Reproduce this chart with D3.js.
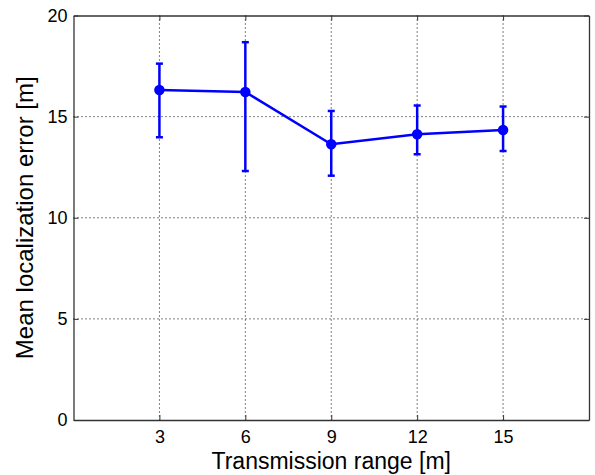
<!DOCTYPE html>
<html>
<head>
<meta charset="utf-8">
<script src="https://cdn.jsdelivr.net/npm/d3@7"></script>
<style>
  body { margin: 0; background: #fff; }
  svg { display: block; font-family: "Liberation Sans", Arial, sans-serif; }
</style>
</head>
<body>
<div id="chart"></div>
<script>
// data
var ranges = [3, 6, 9, 12, 15];
var meanErr = [16.32, 16.22, 13.63, 14.13, 14.34];
var errLow  = [13.98, 12.31, 12.08, 13.14, 13.30];
var errHigh = [17.62, 18.68, 15.28, 15.55, 15.50];
var xTicks = [3, 6, 9, 12, 15];
var yTicks = [0, 5, 10, 15, 20];

var W = 595, H = 475,
    margin = {top: 15.5, right: 6, bottom: 55, left: 73.5},
    width = W - margin.left - margin.right,
    height = H - margin.top - margin.bottom;

var svg = d3.select("#chart").append("svg").attr("width", W).attr("height", H);
var g = svg.append("g").attr("transform", "translate(" + margin.left + "," + margin.top + ")");

var x = d3.scaleLinear().domain([0, 18]).range([0, width]);
var y = d3.scaleLinear().domain([0, 20]).range([height, 0]);

// grid
g.append("g").selectAll("line").data(xTicks).enter().append("line")
    .attr("x1", d => x(d)).attr("x2", d => x(d))
    .attr("y1", 0).attr("y2", height)
    .attr("stroke", "#000").attr("stroke-width", 1).attr("stroke-dasharray", "1,3");
g.append("g").selectAll("line").data(yTicks.filter(d => d > 0 && d < 20)).enter().append("line")
    .attr("y1", d => y(d)).attr("y2", d => y(d))
    .attr("x1", 0).attr("x2", width)
    .attr("stroke", "#000").attr("stroke-width", 1).attr("stroke-dasharray", "1,3");

// axes (ticks inward, mirrored)
var axisColor = "#333";
var xAxis = d3.axisBottom(x).tickValues(xTicks).tickSizeInner(-5).tickSizeOuter(0).tickPadding(10);
var yAxis = d3.axisLeft(y).tickValues(yTicks).tickSizeInner(-5).tickSizeOuter(0).tickPadding(6);

var gx = g.append("g").attr("transform", "translate(0," + height + ")").call(xAxis);
var gy = g.append("g").call(yAxis);
var gxt = g.append("g").call(d3.axisTop(x).tickValues(xTicks).tickSizeInner(-5).tickSizeOuter(0).tickFormat(""));
var gyr = g.append("g").attr("transform", "translate(" + width + ",0)")
    .call(d3.axisRight(y).tickValues(yTicks).tickSizeInner(-5).tickSizeOuter(0).tickFormat(""));

[gx, gy, gxt, gyr].forEach(function(a) {
  a.attr("font-size", null).attr("font-family", null);
  a.select(".domain").attr("stroke", axisColor).attr("stroke-width", 1.3);
  a.selectAll(".tick line").attr("stroke", axisColor);
  a.selectAll(".tick text").attr("fill", "#000").style("font-size", "18px");
});

// error bars
var blue = "#0000ff";
var bars = g.append("g");
ranges.forEach(function(r, i) {
  bars.append("line")
      .attr("x1", x(r)).attr("x2", x(r))
      .attr("y1", y(errLow[i])).attr("y2", y(errHigh[i]))
      .attr("stroke", blue).attr("stroke-width", 2.5);
  [errLow[i], errHigh[i]].forEach(function(v) {
    bars.append("line")
        .attr("x1", x(r) - 3.5).attr("x2", x(r) + 3.5)
        .attr("y1", y(v)).attr("y2", y(v))
        .attr("stroke", blue).attr("stroke-width", 2.5);
  });
});

// line
var line = d3.line().x((d, i) => x(ranges[i])).y(d => y(d));
g.append("path").datum(meanErr).attr("d", line)
    .attr("fill", "none").attr("stroke", blue).attr("stroke-width", 2.5);

// markers
g.append("g").selectAll("circle").data(meanErr).enter().append("circle")
    .attr("cx", (d, i) => x(ranges[i])).attr("cy", d => y(d))
    .attr("r", 4).attr("fill", blue).attr("stroke", blue).attr("stroke-width", 2.5);

// titles
svg.append("text")
    .attr("x", margin.left + width / 2).attr("y", 469)
    .attr("text-anchor", "middle").style("font-size", "23px")
    .text("Transmission range [m]");
svg.append("text")
    .attr("transform", "translate(33," + (margin.top + height / 2) + ") rotate(-90)")
    .attr("text-anchor", "middle").style("font-size", "24px")
    .text("Mean localization error [m]");
</script>
</body>
</html>
